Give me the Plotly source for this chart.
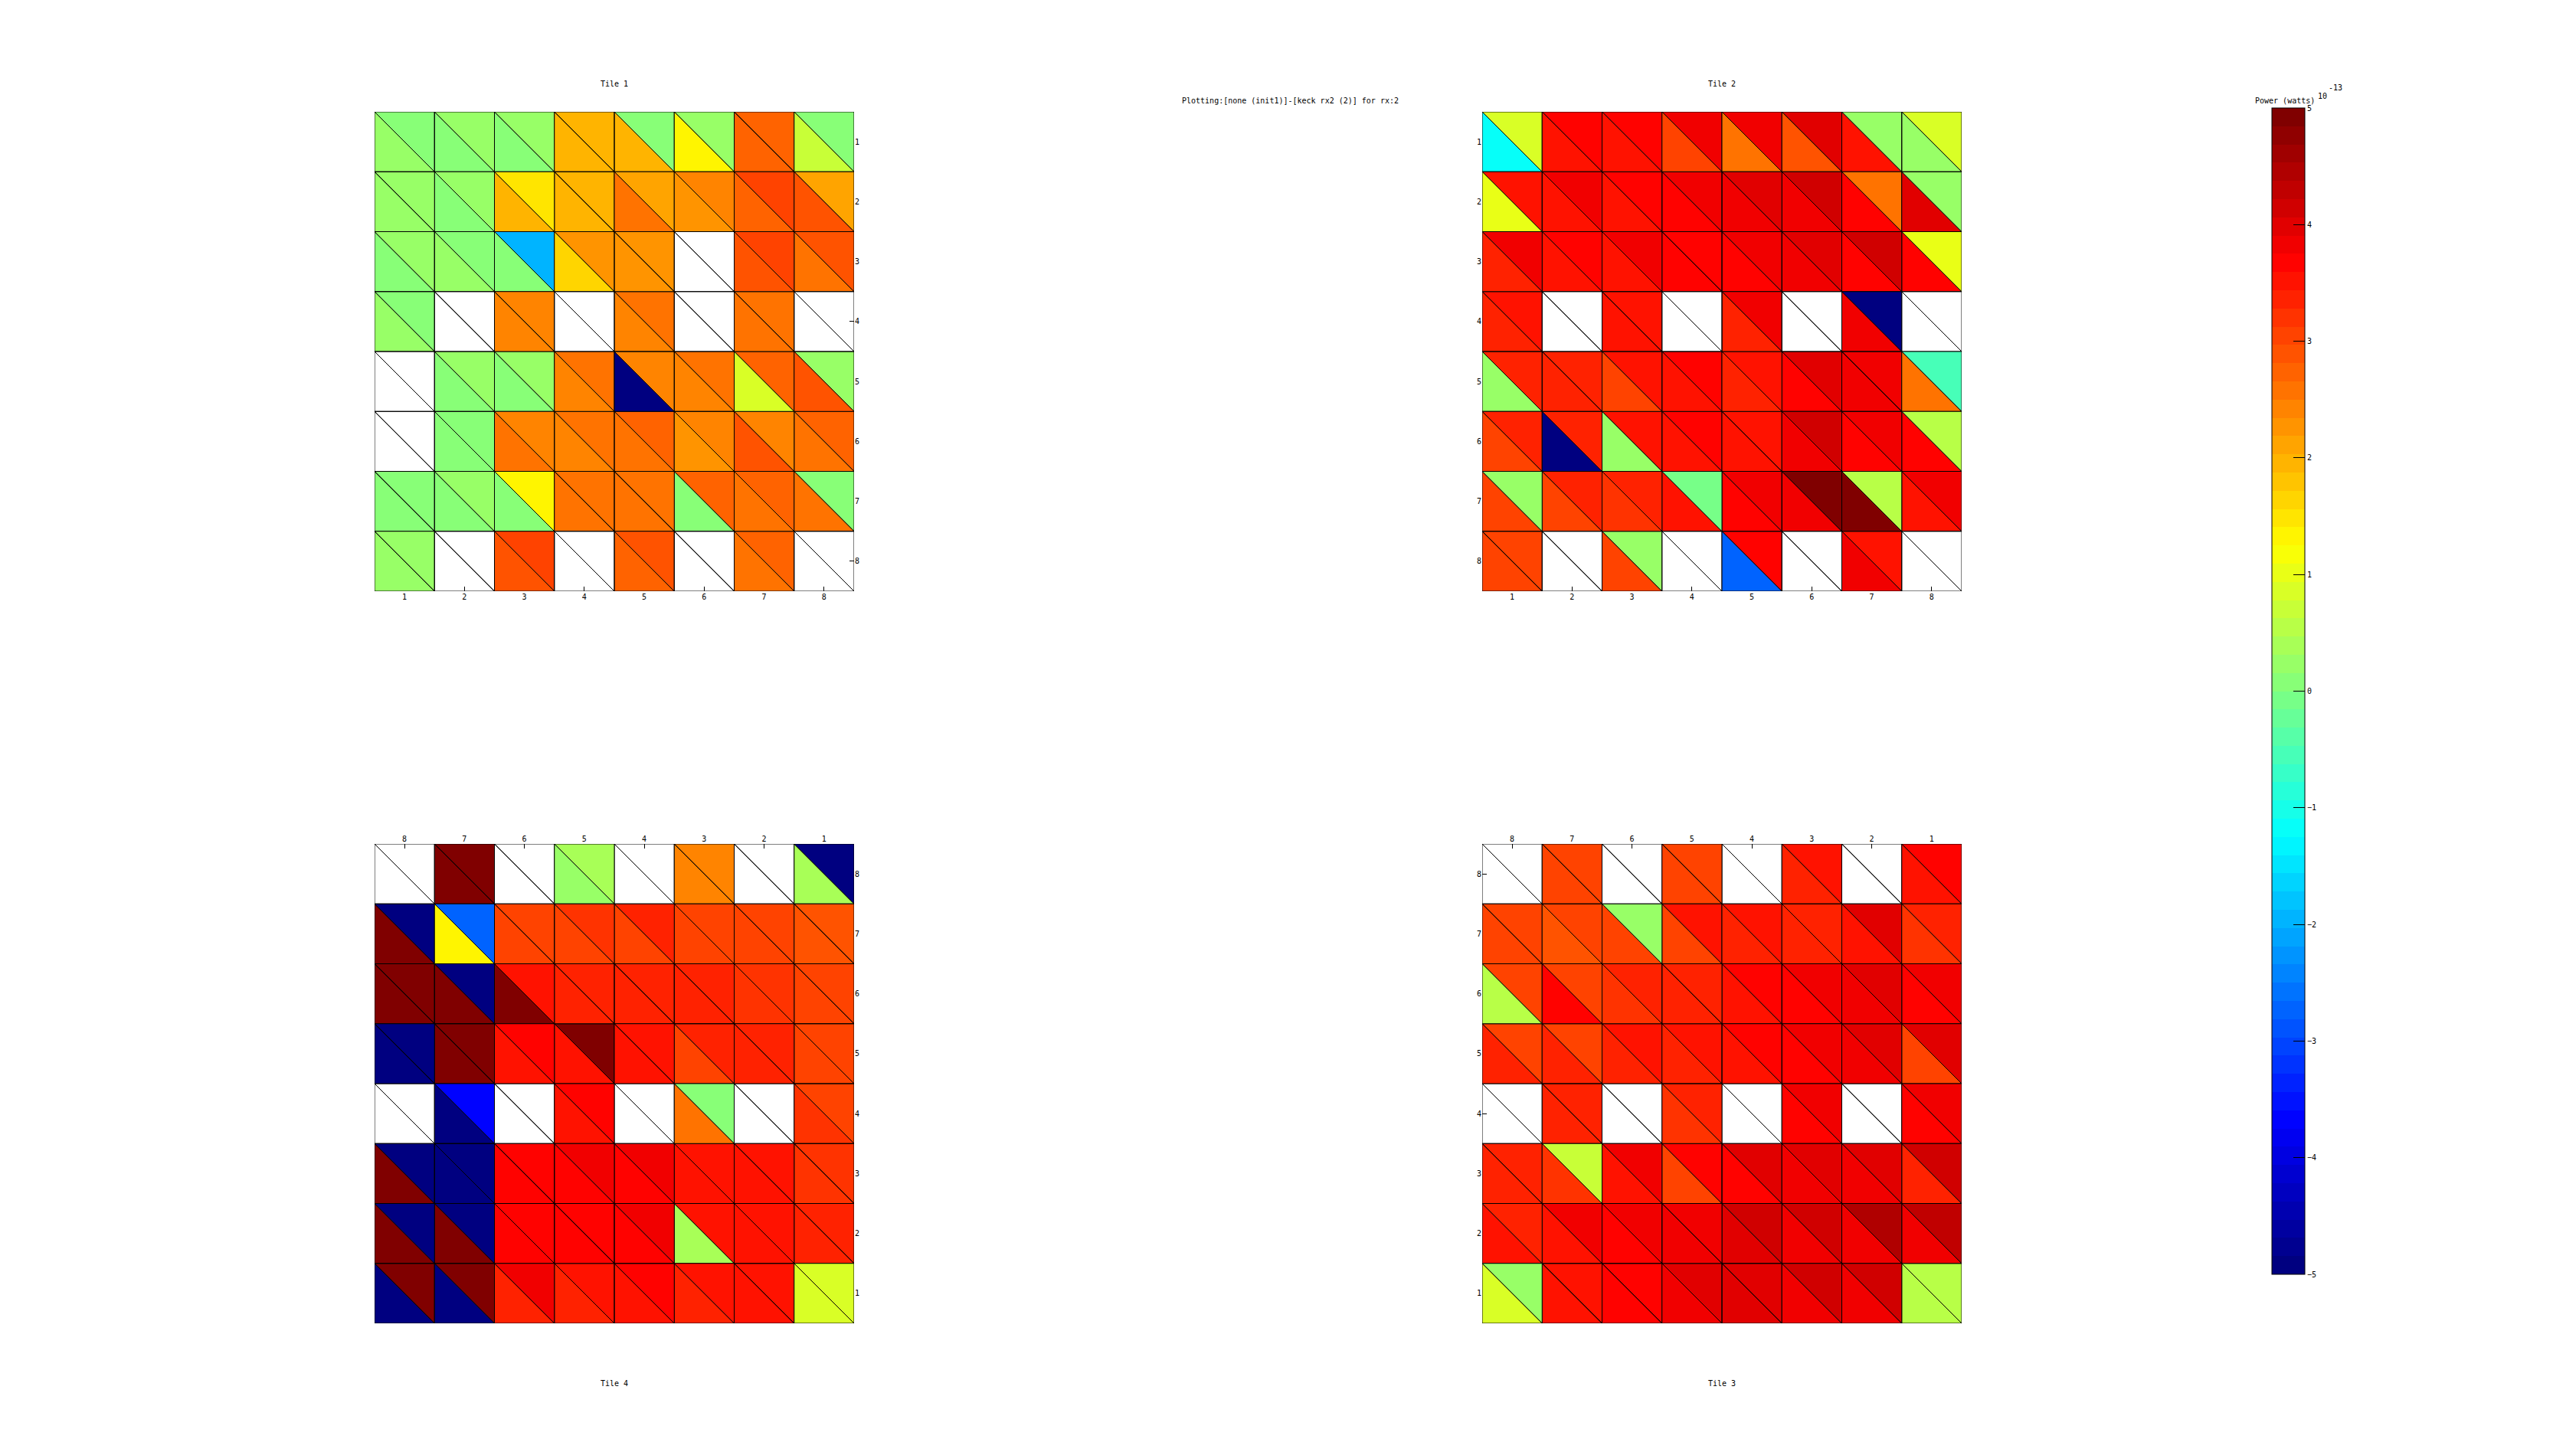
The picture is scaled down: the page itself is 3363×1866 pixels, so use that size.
import plotly.graph_objects as go

N = None
VMIN, VMAX = -5.0, 5.0
MAIN_TITLE = "Plotting:[none (init1)]-[keck rx2 (2)] for rx:2"
CBAR_TITLE = "Power (watts)"
CBAR_EXP_BASE = "10"
CBAR_EXP_POW = "-13"
CBAR_TICKS = [-5, -4, -3, -2, -1, 0, 1, 2, 3, 4, 5]

# ---- Tile 1 (rows top->bottom, cols left->right) ----
TILE1_ROWS = [1, 2, 3, 4, 5, 6, 7, 8]
TILE1_COLS = [1, 2, 3, 4, 5, 6, 7, 8]
TILE1_UPPER = [
    [0.0, 0.2, 0.2, 1.9, 0.0, 0.2, 2.7, 0.0],
    [0.2, 0.2, 1.55, 1.9, 2.1, 2.35, 3.0, 2.1],
    [0.2, 0.0, -1.9, 2.2, 2.2, N, 3.0, 2.85],
    [0.0, N, 2.4, N, 2.5, N, 2.55, N],
    [N, 0.2, 0.2, 2.5, 2.35, 2.55, 2.75, 0.2],
    [N, 0.0, 2.4, 2.55, 2.75, 2.35, 2.4, 2.75],
    [0.0, 0.2, 1.25, 2.55, 2.55, 2.75, 2.75, 0.0],
    [0.2, N, 3.1, N, 2.9, N, 2.75, N],
]
TILE1_LOWER = [
    [0.2, 0.0, 0.15, 1.9, 2.0, 1.25, 2.75, 0.7],
    [0.2, 0.05, 2.0, 1.9, 2.5, 2.2, 2.75, 2.85],
    [0.0, 0.2, 0.0, 1.7, 2.2, N, 2.85, 2.65],
    [0.2, N, 2.4, N, 2.4, N, 2.65, N],
    [N, 0.0, 0.0, 2.4, -5.0, 2.4, 0.9, 2.9],
    [N, 0.0, 2.55, 2.4, 2.55, 2.2, 2.85, 2.55],
    [0.0, 0.0, 0.0, 2.55, 2.5, 0.0, 2.55, 2.55],
    [0.2, N, 2.85, N, 2.75, N, 2.65, N],
]

# ---- Tile 2 ----
TILE2_ROWS = [1, 2, 3, 4, 5, 6, 7, 8]
TILE2_COLS = [1, 2, 3, 4, 5, 6, 7, 8]
TILE2_UPPER = [
    [0.9, 3.6, 3.6, 3.75, 3.75, 3.95, 0.3, 0.9],
    [3.45, 3.75, 3.6, 3.75, 4.0, 4.1, 2.5, 0.3],
    [3.75, 3.6, 3.75, 3.6, 3.75, 3.95, 4.1, 1.05],
    [3.45, N, 3.5, N, 3.75, N, -5.0, N],
    [3.35, 3.3, 3.45, 3.6, 3.5, 4.0, 3.75, -0.5],
    [3.35, 3.3, 3.45, 3.6, 3.5, 4.2, 3.75, 0.55],
    [0.2, 3.3, 3.3, -0.15, 3.75, 5.0, 0.55, 3.75],
    [3.1, N, 0.2, N, 3.6, N, 3.45, N],
]
TILE2_LOWER = [
    [-1.1, 3.5, 3.45, 3.1, 2.65, 2.85, 3.45, 0.3],
    [1.05, 3.45, 3.45, 3.6, 3.75, 3.75, 3.6, 4.0],
    [3.35, 3.45, 3.5, 3.6, 3.6, 3.75, 3.6, 3.6],
    [3.35, N, 3.5, N, 3.3, N, 3.8, N],
    [0.2, 3.35, 3.1, 3.45, 3.3, 3.6, 3.8, 2.65],
    [3.1, -5.0, 0.2, 3.45, 3.45, 3.75, 3.6, 3.6],
    [3.1, 3.1, 3.25, 3.45, 3.6, 3.75, 5.0, 3.45],
    [3.0, N, 3.1, N, -2.8, N, 3.75, N],
]

# ---- Tile 3 (rotated: rows 8..1 top->bottom, cols 8..1 left->right) ----
TILE3_ROWS = [8, 7, 6, 5, 4, 3, 2, 1]
TILE3_COLS = [8, 7, 6, 5, 4, 3, 2, 1]
TILE3_UPPER = [
    [N, 3.0, N, 3.05, N, 3.45, N, 3.6],
    [3.0, 3.1, 0.2, 3.45, 3.45, 3.35, 3.95, 3.35],
    [3.0, 3.1, 3.3, 3.3, 3.6, 3.75, 3.95, 3.75],
    [3.05, 3.1, 3.45, 3.45, 3.6, 3.75, 3.95, 3.95],
    [N, 3.3, N, 3.3, N, 3.75, N, 3.75],
    [3.3, 0.65, 3.75, 3.6, 4.0, 3.95, 3.95, 4.1],
    [3.3, 3.75, 3.75, 3.75, 4.1, 4.1, 4.4, 4.25],
    [0.3, 3.45, 3.6, 3.95, 3.95, 4.1, 4.1, 0.55],
]
TILE3_LOWER = [
    [N, 3.0, N, 3.0, N, 3.3, N, 3.45],
    [3.0, 2.85, 3.05, 3.0, 3.3, 3.35, 3.45, 3.2],
    [0.55, 3.6, 3.2, 3.3, 3.45, 3.6, 3.75, 3.6],
    [3.3, 3.3, 3.3, 3.3, 3.45, 3.6, 3.75, 3.1],
    [N, 3.3, N, 3.2, N, 3.6, N, 3.6],
    [3.3, 3.2, 3.5, 3.1, 3.6, 3.75, 3.75, 3.3],
    [3.45, 3.45, 3.6, 3.8, 3.95, 3.8, 3.8, 3.8],
    [0.9, 3.45, 3.6, 3.8, 3.95, 3.8, 3.8, 0.55],
]

# ---- Tile 4 (rotated) ----
TILE4_ROWS = [8, 7, 6, 5, 4, 3, 2, 1]
TILE4_COLS = [8, 7, 6, 5, 4, 3, 2, 1]
TILE4_UPPER = [
    [N, 5.0, N, 0.4, N, 2.35, N, -5.0],
    [-5.0, -2.8, 3.1, 3.2, 3.3, 3.0, 3.1, 2.9],
    [5.0, -5.0, 3.45, 3.35, 3.3, 3.3, 3.2, 3.1],
    [-5.0, 5.0, 3.6, 5.0, 3.45, 3.3, 3.3, 3.05],
    [N, -3.75, N, 3.6, N, 0.0, N, 3.1],
    [-5.0, -5.0, 3.6, 3.75, 3.75, 3.45, 3.45, 3.2],
    [-5.0, -5.0, 3.6, 3.6, 3.75, 3.45, 3.45, 3.3],
    [5.0, 5.0, 3.75, 3.45, 3.6, 3.45, 3.5, 0.9],
]
TILE4_LOWER = [
    [N, 5.0, N, 0.2, N, 2.35, N, 0.4],
    [5.0, 1.25, 3.1, 3.1, 3.1, 3.0, 3.1, 2.85],
    [5.0, 5.0, 5.0, 3.3, 3.3, 3.3, 3.2, 3.0],
    [-5.0, 5.0, 3.45, 3.45, 3.45, 3.1, 3.3, 3.05],
    [N, -5.0, N, 3.45, N, 2.65, N, 3.2],
    [5.0, -5.0, 3.6, 3.6, 3.6, 3.45, 3.45, 3.2],
    [5.0, 5.0, 3.6, 3.6, 3.6, 0.4, 3.5, 3.3],
    [-5.0, -5.0, 3.3, 3.3, 3.45, 3.3, 3.45, 0.9],
]


# ---------------- colour scale: 64-level jet ----------------
def _jet(t):
    def c(x):
        return max(0.0, min(1.0, x))
    r = c(1.5 - abs(4 * t - 3))
    g = c(1.5 - abs(4 * t - 2))
    b = c(1.5 - abs(4 * t - 1))
    return "rgb(%d,%d,%d)" % (round(r * 255), round(g * 255), round(b * 255))


NLEV = 64
JET_COLORS = [_jet(k / (NLEV - 1)) for k in range(NLEV)]
JET = []
for k, col in enumerate(JET_COLORS):
    JET.append([k / NLEV, col])
    JET.append([(k + 1) / NLEV, col])

EMPTY = "rgba(255,255,255,0)"


def colour_of(v):
    if v is None:
        return EMPTY
    t = (v - VMIN) / (VMAX - VMIN)
    k = min(NLEV - 1, max(0, int(t * NLEV)))
    return JET_COLORS[k]


W, H = 3363, 1866
FONT = "DejaVu Sans Mono"

fig = go.Figure()

tiles = [
    ("Tile 1", TILE1_ROWS, TILE1_COLS, TILE1_UPPER, TILE1_LOWER, "", (489, 1115), (146, 772), 1, 1, "bottom", "right"),
    ("Tile 2", TILE2_ROWS, TILE2_COLS, TILE2_UPPER, TILE2_LOWER, "2", (1935, 2561), (146, 772), 1, 1, "bottom", "left"),
    ("Tile 3", TILE3_ROWS, TILE3_COLS, TILE3_UPPER, TILE3_LOWER, "3", (1935, 2561), (1102, 1728), -1, -1, "top", "left"),
    ("Tile 4", TILE4_ROWS, TILE4_COLS, TILE4_UPPER, TILE4_LOWER, "4", (489, 1115), (1102, 1728), -1, -1, "top", "right"),
]

annotations = []
for name, rows, cols, upper, lower, sfx, xd, yd, xdir, ydown, xside, yside in tiles:
    groups = {}
    for i, ry in enumerate(rows):
        for j, cx in enumerate(cols):
            left = cx - 0.5 * xdir
            right = cx + 0.5 * xdir
            top = ry - 0.5 * ydown
            bottom = ry + 0.5 * ydown
            tri_up = [(left, top), (right, top), (right, bottom)]
            tri_lo = [(left, top), (right, bottom), (left, bottom)]
            for tri, v in ((tri_up, upper[i][j]), (tri_lo, lower[i][j])):
                c = colour_of(v)
                xs, ys = groups.setdefault(c, ([], []))
                for px, py in tri + [tri[0]]:
                    xs.append(px)
                    ys.append(py)
                xs.append(None)
                ys.append(None)
    for c, (xs, ys) in groups.items():
        fig.add_trace(go.Scatter(
            x=xs, y=ys, mode="lines", fill="toself", fillcolor=c,
            line=dict(color="black", width=1), hoverinfo="skip",
            showlegend=False, xaxis="x" + sfx, yaxis="y" + sfx,
        ))

    xdom = [xd[0] / W, xd[1] / W]
    ydom = [1 - yd[1] / H, 1 - yd[0] / H]
    xr = [0.5, 8.5] if xdir == 1 else [8.5, 0.5]
    yr = [8.5, 0.5] if ydown == 1 else [0.5, 8.5]
    axcommon = dict(showgrid=False, zeroline=False, showline=False,
                    ticks="inside", ticklen=6, tickcolor="black", tickwidth=1,
                    tickvals=list(range(1, 9)), layer="below traces",
                    tickfont=dict(family=FONT, size=10, color="black"))
    fig.layout["xaxis" + sfx] = dict(domain=xdom, range=xr, side=xside,
                                     anchor="y" + sfx, **axcommon)
    fig.layout["yaxis" + sfx] = dict(domain=ydom, range=yr, side=yside,
                                     anchor="x" + sfx, **axcommon)
    ty = yd[0] - 37 if xside == "bottom" else yd[1] + 78
    annotations.append(dict(text=name, x=(xd[0] + xd[1]) / 2 / W, y=1 - ty / H,
                            xref="paper", yref="paper", showarrow=False,
                            xanchor="center", yanchor="middle",
                            font=dict(family=FONT, size=10, color="black")))

# colour bar carrier
fig.add_trace(go.Scatter(
    x=[None, None], y=[None, None], mode="markers", showlegend=False,
    hoverinfo="skip",
    marker=dict(color=[VMIN, VMAX], colorscale=JET, cmin=VMIN, cmax=VMAX,
                showscale=True,
                colorbar=dict(x=2966 / W, xanchor="left", xpad=0, ypad=0,
                              y=1 - 902.5 / H, yanchor="middle",
                              len=(1664 - 141) / H, lenmode="fraction",
                              thickness=43, thicknessmode="pixels",
                              outlinewidth=1, outlinecolor="black",
                              tickvals=CBAR_TICKS, ticks="inside", ticklen=15,
                              tickcolor="black", tickwidth=1,
                              tickfont=dict(family=FONT, size=10, color="black"))),
    xaxis="x2", yaxis="y2",
))

annotations.append(dict(text=MAIN_TITLE, x=1684 / W, y=1 - 131 / H,
                        xref="paper", yref="paper", showarrow=False,
                        xanchor="center", yanchor="middle",
                        font=dict(family=FONT, size=10, color="black")))
annotations.append(dict(text=CBAR_TITLE, x=2983 / W, y=1 - 132 / H,
                        xref="paper", yref="paper", showarrow=False,
                        xanchor="center", yanchor="middle",
                        font=dict(family=FONT, size=10, color="black")))
annotations.append(dict(text=CBAR_EXP_BASE, x=3024 / W, y=1 - 126 / H,
                        xref="paper", yref="paper", showarrow=False,
                        xanchor="left", yanchor="middle",
                        font=dict(family=FONT, size=10, color="black")))
annotations.append(dict(text=CBAR_EXP_POW, x=3038 / W, y=1 - 115 / H,
                        xref="paper", yref="paper", showarrow=False,
                        xanchor="left", yanchor="middle",
                        font=dict(family=FONT, size=10, color="black")))

fig.update_layout(width=W, height=H, margin=dict(l=0, r=0, t=0, b=0),
                  paper_bgcolor="white", plot_bgcolor="white",
                  annotations=annotations)

fig.write_html("out.html")
